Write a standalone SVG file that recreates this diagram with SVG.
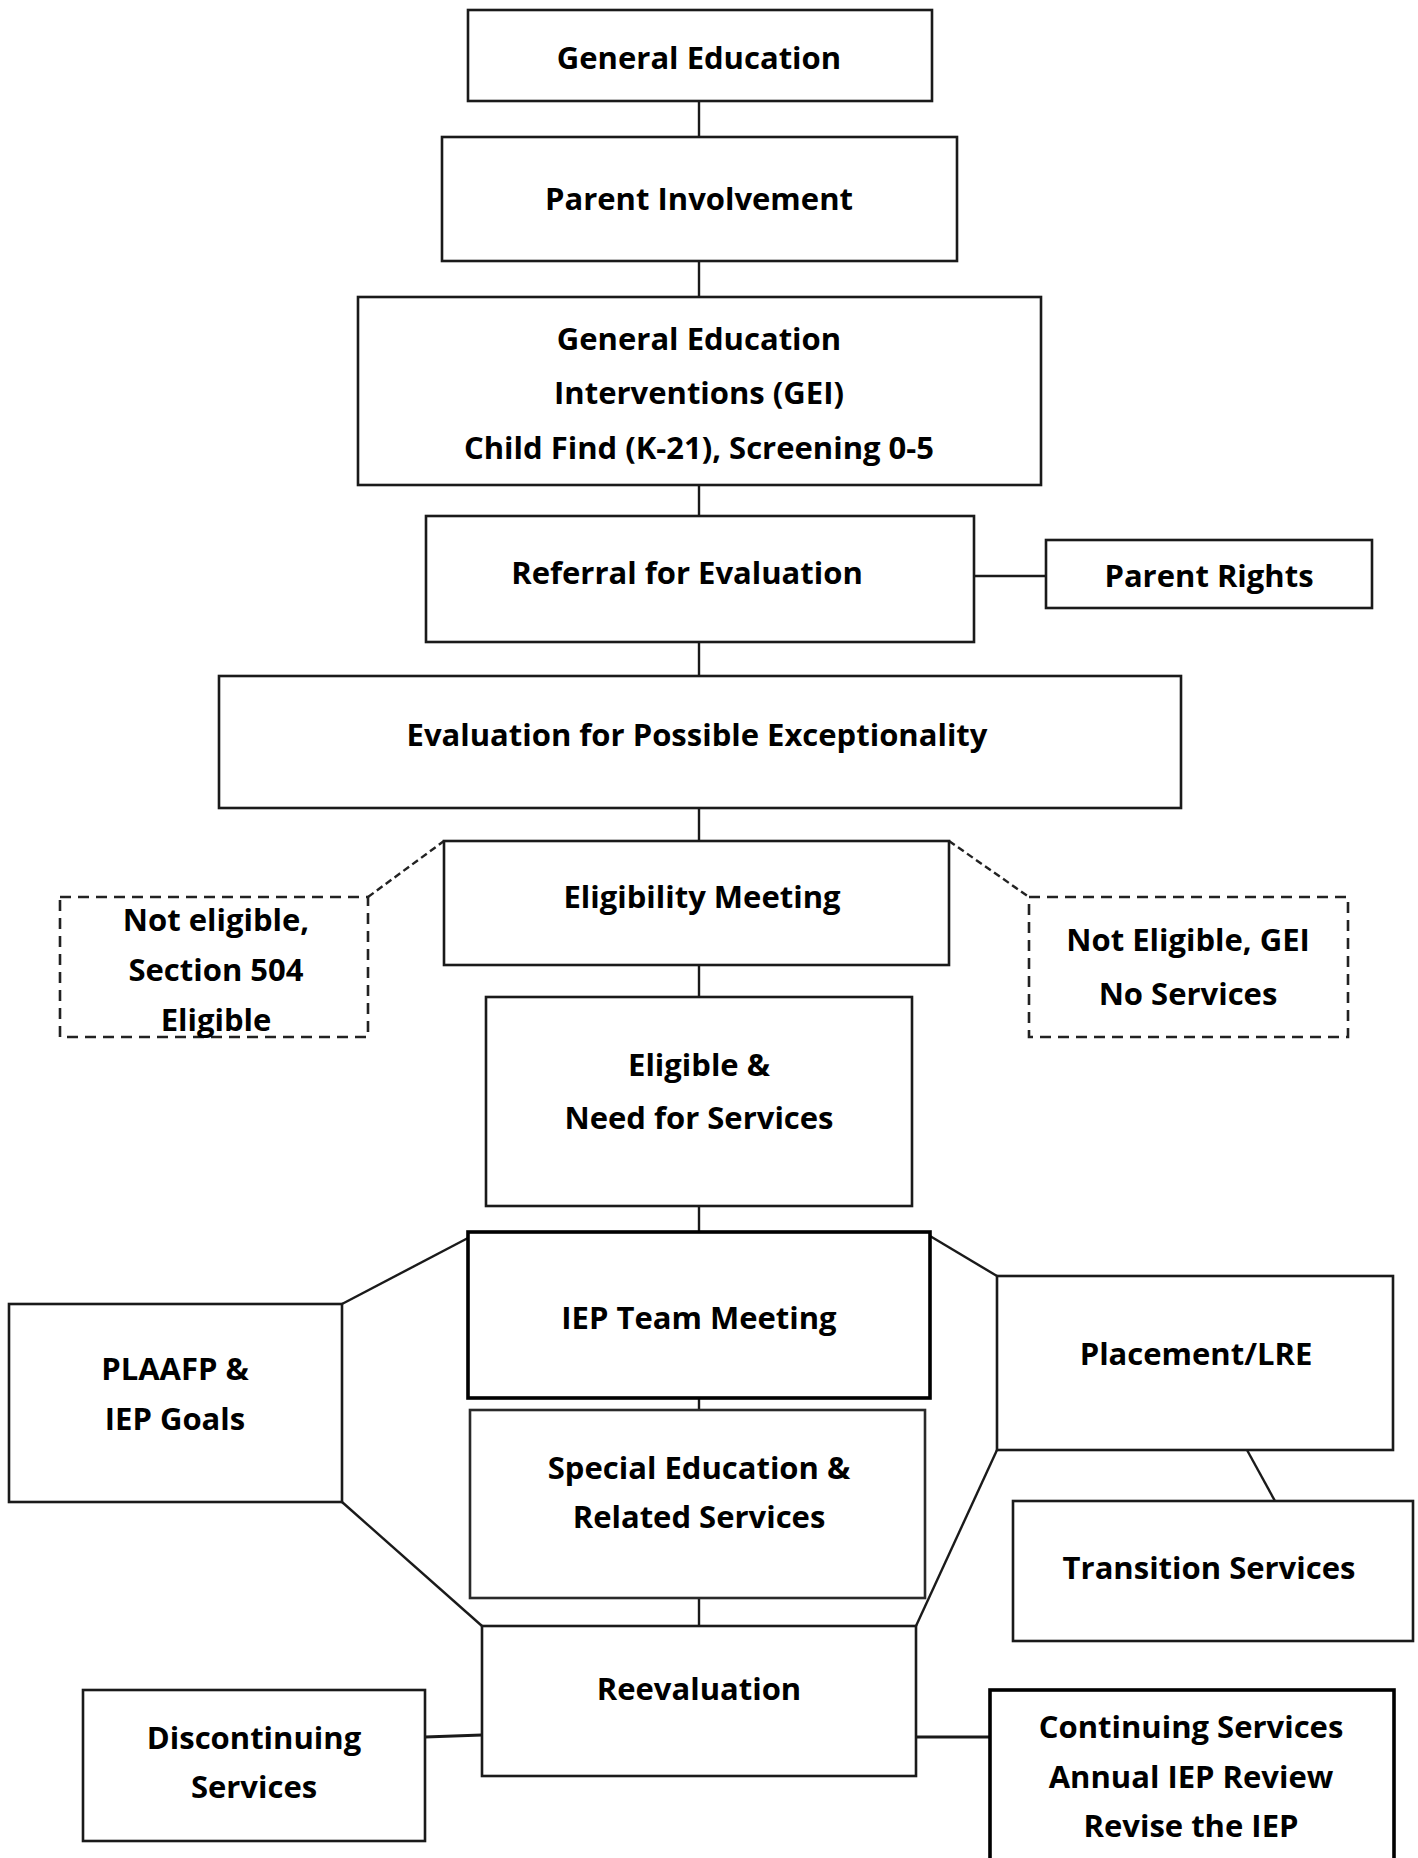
<svg xmlns="http://www.w3.org/2000/svg" width="1418" height="1858" viewBox="0 0 1418 1858">
<style>
.box{fill:#fff;stroke:#1a1a1a;stroke-width:2.6}
.thick{fill:#fff;stroke:#000;stroke-width:3.6}
.dash{fill:#fff;stroke:#222;stroke-width:2.6;stroke-dasharray:11 7}
.soft{fill:#fff;stroke:#2a2a2a;stroke-width:2.6}
.c{fill:none;stroke:#1a1a1a;stroke-width:2.4}
.cd{fill:none;stroke:#222;stroke-width:2.4;stroke-dasharray:7 4}
text{font-family:"Open Sans",Lato,"Liberation Sans",sans-serif;font-weight:bold;font-size:31px;fill:#000;text-anchor:middle;dominant-baseline:central}
</style>
<rect width="1418" height="1858" fill="#fff"/>
<g id="connectors">
<line class="c" x1="699" y1="101" x2="699" y2="137"/>
<line class="c" x1="699" y1="261" x2="699" y2="297"/>
<line class="c" x1="699" y1="485" x2="699" y2="516"/>
<line class="c" x1="974" y1="576" x2="1046" y2="576"/>
<line class="c" x1="699" y1="642" x2="699" y2="676"/>
<line class="c" x1="699" y1="808" x2="699" y2="841"/>
<polyline class="cd" points="368,897 444,841"/>
<polyline class="cd" points="949,841 1029,897"/>
<line class="c" x1="699" y1="965" x2="699" y2="997"/>
<line class="c" x1="699" y1="1206" x2="699" y2="1232"/>
<line class="c" x1="342" y1="1304" x2="468" y2="1238"/>
<line class="c" x1="342" y1="1502" x2="482" y2="1626"/>
<line class="c" x1="930" y1="1236" x2="997" y2="1276"/>
<line class="c" x1="997" y1="1450" x2="916" y2="1626"/>
<line class="c" x1="1247" y1="1450" x2="1275" y2="1501"/>
<line class="c" x1="699" y1="1398" x2="699" y2="1410"/>
<line class="c" x1="699" y1="1598" x2="699" y2="1626"/>
<line class="c" x1="425" y1="1737" x2="482" y2="1735" style="stroke-width:3"/>
<line class="c" x1="916" y1="1737" x2="990" y2="1737" style="stroke-width:3"/>
</g>
<g id="general-education"><rect class="box" x="468" y="10" width="464" height="91"/><text x="699" y="57">General Education</text></g>
<g id="parent-involvement"><rect class="box" x="442" y="137" width="515" height="124"/><text x="699" y="198">Parent Involvement</text></g>
<g id="gei"><rect class="box" x="358" y="297" width="683" height="188"/><text x="699" y="338">General Education</text><text x="699" y="392">Interventions (GEI)</text><text x="699" y="447">Child Find (K-21), Screening 0-5</text></g>
<g id="referral"><rect class="box" x="426" y="516" width="548" height="126"/><text x="687" y="572">Referral for Evaluation</text></g>
<g id="parent-rights"><rect class="box" x="1046" y="540" width="326" height="68"/><text x="1209" y="575">Parent Rights</text></g>
<g id="evaluation"><rect class="box" x="219" y="676" width="962" height="132"/><text x="697" y="734">Evaluation for Possible Exceptionality</text></g>
<g id="eligibility-meeting"><rect class="box" x="444" y="841" width="505" height="124"/><text x="702" y="896">Eligibility Meeting</text></g>
<g id="not-eligible-504"><rect class="dash" x="60" y="897" width="308" height="140"/><text x="216" y="919">Not eligible,</text><text x="216" y="969">Section 504</text><text x="216" y="1019">Eligible</text></g>
<g id="not-eligible-gei"><rect class="dash" x="1029" y="897" width="319" height="140"/><text x="1188" y="939">Not Eligible, GEI</text><text x="1188" y="993">No Services</text></g>
<g id="eligible-need"><rect class="box" x="486" y="997" width="426" height="209"/><text x="699" y="1064">Eligible &amp;</text><text x="699" y="1117">Need for Services</text></g>
<g id="iep-team-meeting"><rect class="thick" x="468" y="1232" width="462" height="166"/><text x="699" y="1317">IEP Team Meeting</text></g>
<g id="plaafp"><rect class="box" x="9" y="1304" width="333" height="198"/><text x="175" y="1368">PLAAFP &amp;</text><text x="175" y="1418">IEP Goals</text></g>
<g id="placement-lre"><rect class="box" x="997" y="1276" width="396" height="174"/><text x="1196" y="1353">Placement/LRE</text></g>
<g id="special-education"><rect class="soft" x="470" y="1410" width="455" height="188"/><text x="699" y="1467">Special Education &amp;</text><text x="699" y="1516">Related Services</text></g>
<g id="transition-services"><rect class="box" x="1013" y="1501" width="400" height="140"/><text x="1209" y="1567">Transition Services</text></g>
<g id="reevaluation"><rect class="box" x="482" y="1626" width="434" height="150"/><text x="699" y="1688">Reevaluation</text></g>
<g id="discontinuing"><rect class="box" x="83" y="1690" width="342" height="151"/><text x="254" y="1737">Discontinuing</text><text x="254" y="1786">Services</text></g>
<g id="continuing"><rect class="thick" x="990" y="1690" width="404" height="175"/><text x="1191" y="1726">Continuing Services</text><text x="1191" y="1776">Annual IEP Review</text><text x="1191" y="1825">Revise the IEP</text></g>
</svg>
